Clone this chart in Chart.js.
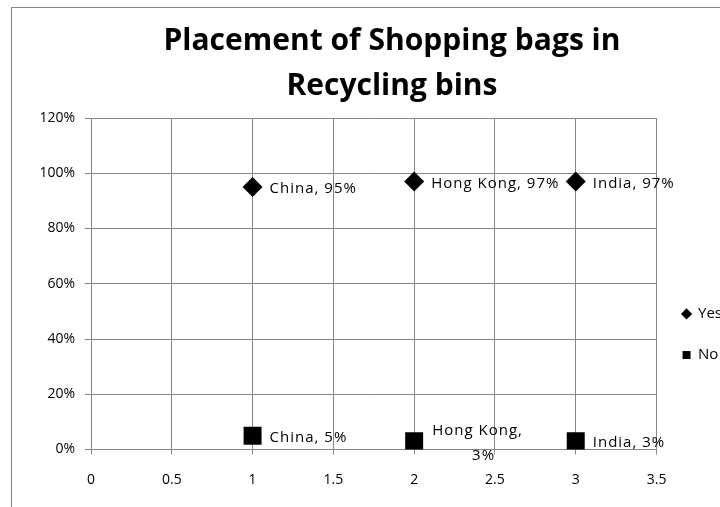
<!DOCTYPE html>
<html>
<head>
<meta charset="utf-8">
<title>Placement of Shopping bags in Recycling bins</title>
<script src="https://cdn.jsdelivr.net/npm/chart.js@4.4.0/dist/chart.umd.min.js"></script>
<style>
  html, body { margin: 0; padding: 0; background: #fff; overflow: hidden; }
  #frame {
    position: absolute; left: 11px; top: 7px;
    width: 762px; height: 522px;
    border: 1px solid #868686; box-sizing: border-box;
  }
  #mycanvas { display: block; }
</style>
</head>
<body>
<div id="frame"><canvas id="mycanvas" width="760" height="520"></canvas></div>
<script>
// survey results, percent of shoppers per country
var countries = ['China', 'Hong Kong', 'India'];
var xPos = [1, 2, 3];
var yesValues = [95, 97, 97];
var noValues = [5, 3, 3];

var xTicks = [0, 0.5, 1, 1.5, 2, 2.5, 3, 3.5];
var yTicks = [0, 20, 40, 60, 80, 100, 120];

var gridGray = '#868686';
var labelFont = { family: 'Open Sans', size: 14 };

function toPoints(values) {
    var pts = [];
    for (var i in values) {
        pts.push({ x: xPos[i], y: values[i] });
    }
    return pts;
}

// writes "Country, NN%" next to every marker
var pointLabels = {
    id: 'pointLabels',
    afterDatasetsDraw: function(chart) {
        var ctx = chart.ctx;
        ctx.save();
        ctx.font = '15px "Open Sans"';
        ctx.letterSpacing = '1px';
        ctx.fillStyle = '#000';
        ctx.textBaseline = 'middle';
        chart.data.datasets.forEach(function(ds, di) {
            chart.getDatasetMeta(di).data.forEach(function(pt, i) {
                var name = countries[i];
                var val = ds.data[i].y + '%';
                var x = pt.x + 17;
                if (ds.labelWrap && ds.labelWrap[i]) {
                    // too long for one line: name on top, value below
                    var first = name + ',';
                    ctx.textAlign = 'left';
                    ctx.fillText(first, x + 1, pt.y - 10);
                    var w = ctx.measureText(first).width;
                    ctx.textAlign = 'center';
                    ctx.fillText(val, x + 7 + w / 2, pt.y + 15);
                } else {
                    ctx.textAlign = 'left';
                    ctx.fillText(name + ', ' + val, x, pt.y + 2);
                }
            });
        });
        ctx.restore();
    }
};

// centre the title on the whole frame, not just the part left of the padding
var fullWidthTitle = {
    id: 'fullWidthTitle',
    afterLayout: function(chart) {
        if (chart.titleBlock) {
            chart.titleBlock.left = 0;
            chart.titleBlock.right = chart.width;
            chart.titleBlock.width = chart.width;
        }
    }
};

var chartdata = {
    datasets: [
        {
            label: 'Yes',
            data: toPoints(yesValues),
            pointStyle: 'rectRot',
            pointRadius: 10,
            pointHoverRadius: 10,
            backgroundColor: '#000',
            borderColor: '#000',
            borderWidth: 0,
            showLine: false
        },
        {
            label: 'No',
            data: toPoints(noValues),
            pointStyle: 'rect',
            pointRadius: 12.7,
            pointHoverRadius: 12.7,
            backgroundColor: '#000',
            borderColor: '#000',
            borderWidth: 0,
            showLine: false,
            labelWrap: [false, true, false]
        }
    ]
};

var ctx = document.getElementById('mycanvas');

var ScatterGraph = new Chart(ctx, {
    type: 'scatter',
    data: chartdata,
    plugins: [pointLabels, fullWidthTitle],
    options: {
        responsive: false,
        animation: false,
        events: [],
        layout: { padding: { left: 0, right: 40, top: 0, bottom: 0 } },
        plugins: {
            tooltip: { enabled: false },
            title: {
                display: true,
                text: ['Placement of Shopping bags in', 'Recycling bins'],
                color: '#000',
                font: { family: 'Open Sans', size: 30, weight: 'bold', lineHeight: '45px' },
                padding: { top: 10.5, bottom: 9.5 }
            },
            legend: {
                position: 'right',
                align: 'start',
                fullSize: false,
                title: { display: true, text: '', font: { size: 12 }, padding: { top: 148, bottom: 0 } },
                labels: {
                    usePointStyle: true,
                    boxWidth: 8,
                    boxHeight: 8,
                    padding: 26,
                    color: '#000',
                    font: { family: 'Open Sans', size: 15 }
                }
            }
        },
        scales: {
            x: {
                type: 'linear',
                min: 0,
                max: 3.5,
                afterBuildTicks: function(scale) {
                    scale.ticks = xTicks.map(function(v) { return { value: v }; });
                },
                afterFit: function(scale) { scale.height = 78.5; },
                ticks: {
                    color: '#000',
                    font: labelFont,
                    padding: 17,
                    maxRotation: 0,
                    callback: function(v) { return String(v); }
                },
                grid: { color: gridGray, tickLength: 5 },
                border: { color: gridGray }
            },
            y: {
                min: 0,
                max: 120,
                afterBuildTicks: function(scale) {
                    scale.ticks = yTicks.map(function(v) { return { value: v }; });
                },
                afterFit: function(scale) { scale.width = 79; },
                ticks: {
                    color: '#000',
                    font: labelFont,
                    padding: 10,
                    callback: function(v) { return v + '%'; }
                },
                grid: { color: gridGray, tickLength: 6 },
                border: { color: gridGray }
            }
        }
    }
});
</script>
</body>
</html>
